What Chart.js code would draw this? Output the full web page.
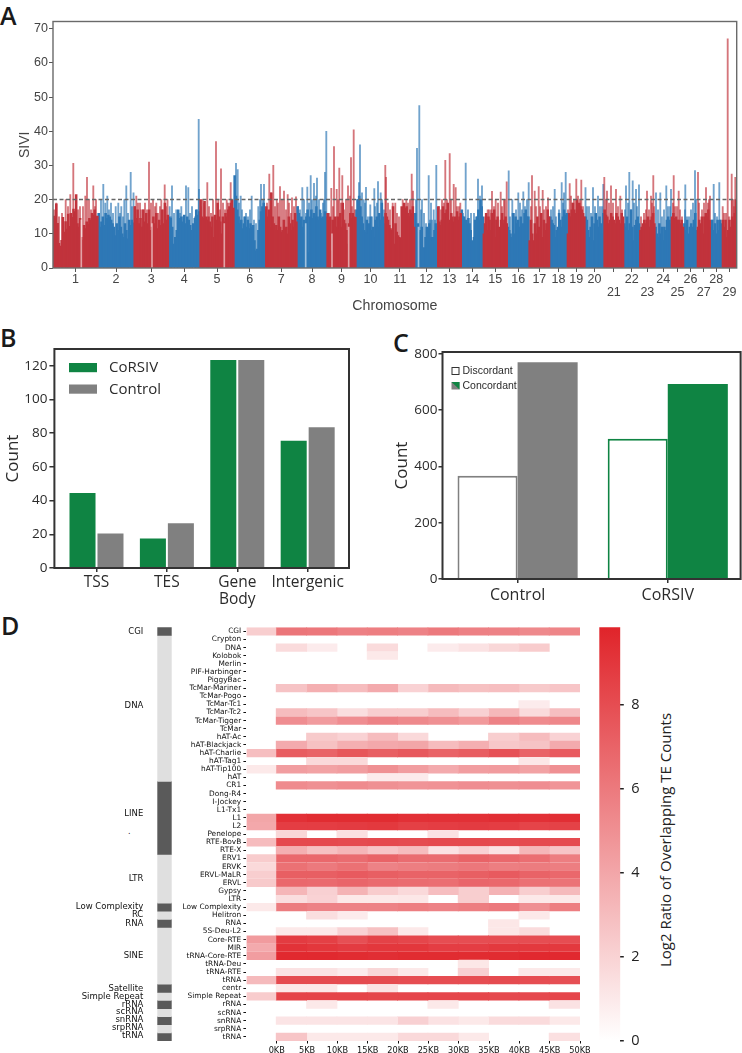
<!DOCTYPE html>
<html><head><meta charset="utf-8">
<title>CoRSIV figure</title>
<script src="https://cdn.jsdelivr.net/npm/chart.js@4"></script>
<style>
html,body{margin:0;padding:0;background:#fff;width:742px;height:1053px;overflow:hidden}
canvas{position:absolute;display:block}
.t{position:absolute;white-space:nowrap;color:#222;line-height:1}
.letter{font:600 25px "Open Sans",sans-serif;color:#1a1a1a}
</style></head><body>
<span class="t letter" style="left:0;top:-2px">A</span>
<span class="t letter" style="left:0;top:320px">B</span>
<span class="t letter" style="left:393px;top:325px">C</span>
<span class="t letter" style="left:1px;top:608px">D</span>
<span class="t" style="left:128px;top:827px;font:8px 'DejaVu Sans',sans-serif">.</span>
<span class="t" id="cbTitle" style="left:664.5px;top:839.5px;font:15px 'Open Sans',sans-serif;transform:translate(-50%,-50%) rotate(-90deg)">Log2 Ratio of Overlapping TE Counts</span>
<canvas id="a" width="742" height="315" style="left:0;top:0;width:742px;height:315px"></canvas>
<canvas id="b" width="360" height="290" style="left:0;top:320px;width:360px;height:290px"></canvas>
<canvas id="c" width="352" height="290" style="left:390px;top:320px;width:352px;height:290px"></canvas>
<canvas id="strip" width="175" height="433" style="left:0;top:620px;width:175px;height:433px"></canvas>
<canvas id="heat" width="420" height="433" style="left:175px;top:620px;width:420px;height:433px"></canvas>
<canvas id="cbar" width="70" height="433" style="left:590px;top:620px;width:70px;height:433px"></canvas>
<script>
// ---------- Panel A data ----------
const chromNames = ['1','2','3','4','5','6','7','8','9','10','11','12','13','14','15','16','17','18','19','20','21','22','23','24','25','26','27','28','29'];
const chromEdges = [0,45,81,115.5,147,181,212.7,244,274,303,332,361.7,384.7,408.3,430.3,454.3,476,496.7,514.3,532,551,570.7,586.7,602,618.3,630.7,644.3,657.3,669.3,683.7];
const chromBody = [
 [15.2,14.6,18.8,13.1,7.2,6.4,8.1,14.8,10.5,13.6,11.4,15.8,12.2,16,14.8,17.2,16.5,21.5,13,12,14.5,9,8.2,12.5,11.5,13.5,12.8,14.5,14,16,15.5,17,14.8,15.2],
 [16,12,13.5,15,12.5,16,14.5,15.5,15,14,13,12,9.5,13,11,15,12,10,9,13,11,8.5,14,12.5,14,13.2],
 [18,14.5,17,13,14.5,12,17,13.5,16,13,17,11,12,15,13,16,11.5,14,12.5,17,13,19,14,15.5],
 [15,14.5,12,7,9,11,17,14.5,15,13.5,15.5,13,15,14,12.5,11,13,14.5,17,15.5,16.5],
 [20,15,14.5,19.5,15,14,15,13.5,12,15,9,15.5,14,19,15,13.5,10,15,13.5,16,15,17,18,19,20,17.5],
 [27,21,17,15,13,14,11.5,13,15,12,14,11.5,13,12,12.5,8,5,5.5,11,14,16.5,18,19,17],
 [18,15,17,12,22,15,13,11,12.5,11,15,12,10.5,11,14,11.5,12,10,15,13,11,14,12,16,13.5],
 [18,16,14,15,12,14,10,15,17,4.5,15,17,14.5,16,15,18,15,14,17,14.5,15,14,16.5,15],
 [16,14,15,5,14,11,15,12,15,11.5,16,12,19,14,13,11,7,13,16,14.5,16,15,14.8],
 [17,20,21,18,15,13,11,10.5,14,10,13,15,11,12,9,14,15,12,16,14,19,15,13],
 [16,15,14,12.5,11.5,11,18,7,13,10.5,9.5,9,8.8,18,17,19,17.5,18,16,15,17,16,18,12],
 [16,12,13,10.5,11,12,2,6,9,12,11.5,13,9,8,9,11,13,12],
 [18,13.5,12.5,14,18,14,16,17,19,14,13,16,15,13.5,15,14,16.5,14,15,16],
 [17,15,15,13.5,14,13,14.5,13,11,8,7.5,9,14,12,15,17,14,20,18,15],
 [10,13,16,11,15,14,11,16,13,17,9,14,15,12,11,14,16,13,14,15,13],
 [12,11,10,9,16,10,15,13,14,12,15,12,13,16,17,15,15],
 [8,14,10,8,13,10,15,12,11,16,9,14,11,13,17,15],
 [15,14,13,12.5,9,11,12,16,14,12,15,17,15.5,16],
 [10,16,15,17,19,17,16,20,17,19,18,17,16,15],
 [15,14,11,9,12,15,8,13,16,14,12,15,13,10,16],
 [17,15.5,15,13,14,16,15,14,13,16,15,14,13,16,15],
 [13,12,15,11,13,17,12,8,12.5,14,15,13],
 [11,12,13,14,13,14,15,12,14,15,16,13],
 [12,10,9,13,10,12,8,12,11,14,15,14,13],
 [15,16,14.5,15,14,14,13,14,12],
 [13,11,14,10,12,13,12,14,16,11],
 [12,14,13,15,10,15,16,15,17,14],
 [12,14,11,13,10,14,11,14,13],
 [14,12,14,9,11,14,12,15,14,16,20]
];
const spikePos = [20.3,27,34,40.3,3.3,12.7,17.3,32.3,43,50.3,52.3,54.3,62.7,65.3,68.3,71.3,73.3,77.7,80.5,96,83.3,85,90,100,103.3,108.3,111.7,114.5,119,116.7,123.3,128.3,133,135.3,145.7,146,149.7,154.3,163,165.3,168,173.7,177.7,183,184.7,187.7,198.7,208,211,205.3,216.3,220.3,223.7,227,231,234.7,239,243,245,249.3,254.3,257.7,261,264,272,273.3,278.3,281,283.7,286.3,289.3,295,298,300.7,306,307,310.7,313,317.3,321.3,325,327.7,332.3,333,339.7,342.3,349.7,353.3,358.7,360,364,366.3,369,375.7,378,380.7,383.3,389,392.3,396.7,400.7,402.7,407.3,412.7,425,429,434.7,439,442.7,447.7,451,453.7,455.7,459.3,465.3,470.3,475.7,479,481.7,485.7,489.7,495,501.7,508.7,511,512.7,516.7,519.3,523.3,528.3,532.5,540,545,550.3,551.3,554,558,563,567.3,573,576.3,579.7,583,586,594,598,600.3,603,607.3,613.3,618,620.7,625.7,632.3,638,642,645,653,657,660.7,666.3,669.7,674.7,678.7,680.7,682.3];
const spikeVal = [30.6,18,26.5,24,19,20,21.5,21,20,24.5,19,21,18,19,18,20,24,28,22,31,21,19,17,20,19,20,24.3,20,24,18,17,18,24,23.5,43.5,23,20,25,37,20,29,20,25,30.6,28.8,21,21,24.5,24.5,18,27.5,30,20,23.8,22.5,21.5,20.5,20.8,18,23.5,23.7,27,24.8,26.3,28,40,23.3,35.5,23,29.2,27,24,32.3,40.4,25,36,20,23.6,18.5,23.2,25.3,22,30,26.5,19,19,20,20,27.5,22.5,35,47.5,20,27,19,17,30,20,31.5,33.5,24.5,23.5,19,30.7,26,24,17,22.4,20,22.2,20,25.2,28.4,20,22,22.3,25,27,22.5,23.8,22.7,20.5,23,25,22,28,24.7,19,26,25.7,23.5,23.5,21,24.5,26.5,22.5,24,23,21,24,28,25.5,23,24.3,22.5,21,27,22,22,24,23,27,22.5,24.3,17,28.5,28,23.5,21,24.5,25,18,67,27.5,20,26.5];
const hairPos = [1,6,9,15,23,25,30,36,38,42,46,48,56,58,60,67,70,75,79,82,87,88,92,94,98,102,105,107,110,113,118,121,125,127,130,137,139,142,144,148,151,156,158,160,167,170,172,175,179,182,186,189,191,193,195,197,201,203,207,210,214,218,222,225,229,233,236,238,241,247,251,253,256,259,263,266,268,270,271,276,280,285,288,291,293,297,299,302,304,309,312,315,319,322,324,329,331,335,337,344,346,351,355,357,363,368,371,373,377,379,382,386,388,391,394,398,404,406,410,415,418,421,423,427,432,436,438,441,445,449,452,457,461,463,467,469,472,474,478,483,487,491,493,498,500,503,506,510,515,518,521,525,527,530,534,536,538,542,547,549,553,556,560,565,569,572,575,578,581,584,588,591,593,596,599,601,605,609,611,615,617,620,622,624,627,629,632,634,636,640,643,646,649,651,655,656,659,662,664,667,671,673,676,679,681];
const hairVal = [17,15,16,18,19,17,18,20,17,18,16,20,17,19,16,16,15,16,18,18,19,17,19,17,19,18,16,18,17,18,15,16,15,16,15,16,18,15,17,18,19,18,16,20,17,19,17,19,19,22,19,17,15,16,15,17,14,13,20,20,19,22,18,19,20,17,19,16,18,17,20,16,19,20,21,20,16,19,20,16,18,20,19,17,20,21,18,17,20,22,19,15,15,18,19,20,17,19,17,16,15,16,19,20,20,17,16,13,14,14,14,18,17,19,20,20,18,18,16,17,16,16,15,21,15,17,17,18,19,18,20,15,16,17,19,17,18,20,18,18,18,17,18,17,18,15,17,19,17,21,20,21,20,18,18,18,16,18,18,18,20,19,19,18,17,17,19,17,19,18,15,16,17,17,19,18,17,15,17,18,18,19,18,18,17,15,17,15,15,19,20,19,17,19,19,20,14,16,15,14,16,16,15,20,18];
const notchPos = [28.3,99,365.5,252.7,171.3,279,295.7];
const notchVal = [14,13,12,13,13,10,12];
const sivThreshold = 20;
const sivTicks = [0,10,20,30,40,50,60,70];

// ---------- Panel B data ----------
const regionNames = [['TSS'],['TES'],['Gene','Body'],['Intergenic']];
const regionCoRSIV = [44.5,17.5,123.5,75.5];
const regionControl = [20.5,26.5,123.5,83.5];

// ---------- Panel C data ----------
const groupNames = ['Control','CoRSIV'];
const discordant = [367,498];
const concordant = [770,692];

// ---------- Panel D data ----------
const teNames = ['CGI','Crypton','DNA','Kolobok','Merlin','PIF-Harbinger','PiggyBac','TcMar-Mariner','TcMar-Pogo','TcMar-Tc1','TcMar-Tc2','TcMar-Tigger','TcMar','hAT-Ac','hAT-Blackjack','hAT-Charlie','hAT-Tag1','hAT-Tip100','hAT','CR1','Dong-R4','I-Jockey','L1-Tx1','L1','L2','Penelope','RTE-BovB','RTE-X','ERV1','ERVK','ERVL-MaLR','ERVL','Gypsy','LTR','Low Complexity','Helitron','RNA','5S-Deu-L2','Core-RTE','MIR','tRNA-Core-RTE','tRNA-Deu','tRNA-RTE','tRNA','centr','Simple Repeat','rRNA','scRNA','snRNA','srpRNA','tRNA'];
const distLabels = ['0KB','5KB','10KB','15KB','20KB','25KB','30KB','35KB','40KB','45KB','50KB'];
const heatRows = [
 [2.2,6.2,6.1,5.7,5.8,5.6,6.0,5.7,5.6,5.3,5.5],
 [0,0,0,0,0,0,0,0,0,0,0],
 [0,1.6,0.9,0,1.6,0,0.9,1.3,1.8,2.3,0],
 [0,0,0,0,1,0,0,0,0,0,0],
 [0,0,0,0,0,0,0,0,0,0,0],
 [0,0,0,0,0,0,0,0,0,0,0],
 [0,0,0,0,0,0,0,0,0,0,0],
 [0,2.7,3.6,3.0,3.8,2.0,3.1,2.8,2.9,2.4,2.6],
 [0,0,0,0,0,0,0,0,0,0,0],
 [0,0,0,0,0,0,0,0,0,0.9,0],
 [0,3,2.6,1.5,2.2,2.2,3.0,2.1,3.2,1.6,2.9],
 [0,5.1,4.5,5.1,5.6,5.3,5.0,4.6,5.6,5.2,5.4],
 [0,0,0,0,0,0,0,0,0,0,0],
 [0,0,2.4,2.0,3.0,1.7,0,0,2.2,3,2.0],
 [0,3.8,2.8,3.6,3.9,4.0,3.0,3.6,2.5,2.7,3.8],
 [2.9,7.3,7,7.6,7.2,7.5,7.0,7.3,7.8,7.0,7.4],
 [0,0,1.7,1.7,0,0,0,0,0,1.1,0],
 [1.0,4.4,4.2,4.4,5.0,4.4,3.8,4.4,4.5,4.2,5.0],
 [0,0,0,0,0.9,0.9,0,0,0,0,0],
 [0,5.2,5.0,5.2,5.0,4.8,4.9,5.1,5.0,5.1,4.8],
 [0,0,0,0,0,0,0,0,0,0,0],
 [0,0,0,0,0,0,0,0,0,0,0],
 [0,0,0,0,0,0,0,0,0,0,0],
 [4.0,9.3,9.5,9.5,9.5,9.3,9.3,9.3,9.4,9.3,9.4],
 [3.9,8.7,8.7,8.8,8.9,8.6,8.7,8.8,8.7,8.4,8.5],
 [0,1.8,0,1.4,0,0,1.3,0,0,0,0],
 [3,8.2,8.2,8.1,8.2,8.1,8.2,8.2,8.1,8.2,8.1],
 [0,3.6,2.8,3.3,2.6,3.0,1.3,2.0,1.3,3.3,2.6],
 [2.3,6.8,6.8,6.6,7.0,6.6,6.6,7.0,6.8,6.5,5.8],
 [1.7,6.4,6.0,6.4,5.6,5.8,5.9,6.1,5.8,5.9,5.8],
 [2.2,7.2,7.2,7.4,7.2,7.0,7.0,7.2,7.4,7.0,6.8],
 [2.4,6.8,6.7,6.9,6.7,6.6,6.5,6.9,6.8,6.4,6.3],
 [0,3.3,2.1,3.4,2.3,1.7,2.9,2.2,3.4,2.2,3.1],
 [0,1.5,2.0,1.0,1.0,1.1,0,2.2,0,1.0,1.0],
 [1.0,5.9,5.6,5.6,5.6,5.8,5.6,5.8,6.0,5.0,5.8],
 [0,0,1.5,0.9,0,0,0,0,0,1.0,0],
 [0,0,0,0,0,0,0,0,1.1,0,0],
 [0,1.0,1.0,2.0,2.8,1.0,0,0,1.1,1.6,0],
 [4.5,8.8,8.6,7.9,8.5,8.3,8.0,8.0,8.0,8.0,8.0],
 [3.8,9.2,9.0,8.8,9.0,9.0,8.7,8.7,8.9,8.9,8.9],
 [4.4,9.6,9.6,9.5,9.4,9.5,9.5,9.5,9.5,9.6,9.6],
 [0,0,0,0,0,0,0,1.1,0,0,0],
 [0,1.3,1.3,0.9,1.8,1.0,0,2.1,0,1,1],
 [3.1,8.1,8.1,8.1,8.1,8.0,8.0,8.0,8.1,8.0,7.9],
 [0,1.0,1.0,0,1.2,0,0,0,0,0,0],
 [2.3,8.4,8.4,8.4,8.3,8.3,8.3,8.3,8.2,8.2,8.3],
 [0,0,1.0,0,0,0,1.0,0,0,0,1.3],
 [0,0,0,0,0,0,0,0,0,0,0],
 [0,1.2,1.2,1.2,1.2,2.1,1.3,1.0,1.6,1.6,1.0],
 [0,0,0,0,0,0,0,0,0,0,0],
 [0,2.6,1.0,1.0,1.0,1.7,1.7,1.0,0,0,1.4]
];
const familyNames = ['CGI','DNA','LINE','LTR','Low Complexity','RC','RNA','SINE','Satellite','Simple Repeat','rRNA','scRNA','snRNA','srpRNA','tRNA'];
const familyStart = [0,1,19,28,34,35,36,37,44,45,46,47,48,49,50];
const familyEnd   = [1,19,28,34,35,36,37,44,45,46,47,48,49,50,51];
const familyLabelRow = [0.6,9.7,23,31,34.4,35.4,36.6,40.5,44.6,45.5,46.5,47.4,48.4,49.4,50.4];
const colorbarMax = 9.84;
const colorbarTicks = [0,2,4,6,8];

// ---------- helpers ----------
Chart.defaults.animation = false;
Chart.defaults.responsive = false;
Chart.defaults.devicePixelRatio = 1;
Chart.defaults.events = [];
Chart.defaults.plugins.legend.display = false;
Chart.defaults.plugins.tooltip.enabled = false;

const frame = {id:'frame', afterDatasetsDraw(chart,args,o){
  if(!o.color) return;
  const a = chart.chartArea, c = chart.ctx;
  c.save(); c.strokeStyle = o.color; c.lineWidth = o.width;
  c.strokeRect(a.left,a.top,a.right-a.left,a.bottom-a.top); c.restore();
}};
Chart.register(frame);

function setTicks(values){ return s => { s.ticks = values.map(v => ({value:v})); }; }
function fixW(w){ return s => { s.width = w; s.paddingTop = 0; s.paddingBottom = 0; }; }
function fixH(h){ return s => { s.height = h; s.paddingLeft = 0; s.paddingRight = 0; }; }
function heatColor(v){
  const t = Math.max(0, Math.min(1, v/colorbarMax));
  const m = (a,b) => Math.round(a+(b-a)*t);
  return `rgb(${m(255,224)},${m(255,36)},${m(255,42)})`;
}

// ---------- Panel A ----------
const RED='#c1333c', BLUE='#2e78b6', RED2='rgba(193,51,60,.68)', BLUE2='rgba(46,120,182,.68)';
const chromOf = x => { let i=0; while(i<chromNames.length-1 && x>=chromEdges[i+1]) i++; return i; };
const bodyRed=[], bodyBlue=[];
chromBody.forEach((vals,c)=>{
  const w=(chromEdges[c+1]-chromEdges[c])/vals.length;
  vals.forEach((y,i)=>{ (c%2?bodyBlue:bodyRed).push({x:chromEdges[c]+(i+.5)*w,y}); });
});
const spikeRed=[], spikeBlue=[];
spikePos.forEach((x,i)=>{ (chromOf(x)%2?spikeBlue:spikeRed).push({x,y:spikeVal[i]}); });
hairPos.forEach((x,i)=>{ (chromOf(x)%2?spikeBlue:spikeRed).push({x,y:hairVal[i]}); });
const chromCentres = chromNames.map((_,i)=>(chromEdges[i]+chromEdges[i+1])/2);
const chromLabels = chromNames.map(n => (+n>=21 && +n%2===1) ? ['',n] : [n]);
const AXA='#444', FA='"Liberation Sans",Arial,sans-serif';
new Chart(document.getElementById('a'),{
  type:'bar',
  data:{datasets:[
    {label:'spikes odd',data:spikeRed,backgroundColor:RED2,barThickness:1.2,order:6},
    {label:'spikes even',data:spikeBlue,backgroundColor:BLUE2,barThickness:1.2,order:6},
    {label:'odd chromosomes',data:bodyRed,backgroundColor:RED,barThickness:1.9,order:5},
    {label:'even chromosomes',data:bodyBlue,backgroundColor:BLUE,barThickness:1.9,order:5},
    {label:'gaps',data:notchPos.map((x,i)=>({x,y:notchVal[i]})),backgroundColor:'rgba(255,255,255,.55)',barThickness:1,order:4},
    {type:'line',label:'threshold',data:[{x:chromEdges[0],y:sivThreshold},{x:chromEdges[chromEdges.length-1],y:sivThreshold}],borderColor:'#666',borderWidth:1.5,borderDash:[4,2.5],pointRadius:0,order:1}
  ]},
  options:{
    layout:{padding:{left:0,top:21.5,right:5.3,bottom:0}},
    datasets:{bar:{grouped:false}},
    plugins:{frame:{color:'#6a6a6a',width:1.4}},
    scales:{
      x:{type:'linear',offset:false,min:chromEdges[0],max:chromEdges[chromEdges.length-1],
        grid:{display:true,drawOnChartArea:false,offset:false,tickLength:4,tickColor:'#555'},border:{display:false},
        afterBuildTicks:setTicks(chromCentres),afterFit:fixH(47),
        ticks:{autoSkip:false,maxRotation:0,minRotation:0,padding:1,color:AXA,font:{family:FA,size:12.5,lineHeight:1.03},callback:(v,i)=>chromLabels[i]},
        title:{display:true,text:'Chromosome',color:AXA,font:{family:FA,size:14.2,lineHeight:1.2},padding:{top:2,bottom:0}}},
      y:{min:0,max:72.1,grid:{display:true,drawOnChartArea:false,tickLength:4,tickColor:'#555'},border:{display:false},
        afterBuildTicks:setTicks(sivTicks),afterFit:fixW(53),
        ticks:{padding:1,color:AXA,font:{family:FA,size:12.5}},
        title:{display:true,text:'SIVI',color:AXA,font:{family:FA,size:14,lineHeight:1.2},padding:{top:16.6,bottom:0}}}
    }
  }
});

// ---------- Panel B ----------
const GREEN='#0f8443', GREY='#808080', INK='#2b2b2b', FB='"Open Sans",sans-serif';
const legendB = {id:'legendB', afterDatasetsDraw(chart){
  const c=chart.ctx;
  chart.data.datasets.forEach((d,i)=>{
    const y=43+i*21.5;
    c.fillStyle=d.backgroundColor; c.fillRect(69,y,28,9.2);
    c.fillStyle=INK; c.font='15px '+FB; c.textBaseline='middle'; c.textAlign='left';
    c.fillText(d.label,109,y+4.8);
  });
}};
new Chart(document.getElementById('b'),{
  type:'bar',
  data:{datasets:[
    {label:'CoRSIV',data:regionCoRSIV.map((y,x)=>({x,y})),backgroundColor:GREEN},
    {label:'Control',data:regionControl.map((y,x)=>({x,y})),backgroundColor:GREY}
  ]},
  plugins:[legendB],
  options:{
    layout:{padding:{left:0,top:29,right:11,bottom:0}},
    datasets:{bar:{categoryPercentage:.795,barPercentage:.93}},
    plugins:{frame:{color:'#333',width:2}},
    scales:{
      x:{type:'linear',offset:false,min:-.598,max:3.587,grid:{drawOnChartArea:false,offset:false,tickLength:4,tickColor:'#333',lineWidth:1.5},border:{display:false},
        afterBuildTicks:setTicks(regionNames.map((_,i)=>i)),afterFit:fixH(42),
        ticks:{autoSkip:false,maxRotation:0,minRotation:0,padding:2,color:INK,font:{family:FB,size:15.5,lineHeight:1.12},callback:(v,i)=>regionNames[i]}},
      y:{min:0,max:130,grid:{drawOnChartArea:false,tickLength:5,tickColor:'#333',lineWidth:1.5},border:{display:false},
        afterBuildTicks:setTicks([0,20,40,60,80,100,120]),afterFit:fixW(54.4),
        ticks:{padding:2,color:INK,font:{family:FB,size:13.5}},
        title:{display:true,text:'Count',color:INK,font:{family:FB,size:17,lineHeight:1.2},padding:{top:3,bottom:0}}}
    }
  }
});

// ---------- Panel C ----------
const discordantLabel='Discordant', concordantLabel='Concordant';
const legendC = {id:'legendC', afterDatasetsDraw(chart){
  const c=chart.ctx, x=61.5;
  c.save();
  c.strokeStyle='#333'; c.lineWidth=1; c.strokeRect(x+.5,47.5,7,7);
  c.fillStyle=GREY; c.fillRect(x,62,8,7.5);
  c.fillStyle=GREEN; c.beginPath(); c.moveTo(x,62); c.lineTo(x+8,62); c.lineTo(x+8,69.5); c.closePath(); c.fill();
  c.fillStyle=INK; c.font='10.5px "Liberation Sans",Arial,sans-serif'; c.textBaseline='middle'; c.textAlign='left';
  c.fillText(discordantLabel,x+11,51); c.fillText(concordantLabel,x+11,65.8);
  c.restore();
}};
const edge=[GREY,GREEN];
new Chart(document.getElementById('c'),{
  type:'bar',
  data:{datasets:[
    {label:discordantLabel,data:discordant.map((y,x)=>({x,y})),backgroundColor:'#fff',borderColor:edge,borderWidth:2,borderSkipped:'bottom'},
    {label:concordantLabel,data:concordant.map((y,x)=>({x,y})),backgroundColor:edge}
  ]},
  plugins:[legendC],
  options:{
    layout:{padding:{left:0,top:32,right:1.4,bottom:0}},
    datasets:{bar:{categoryPercentage:.8,barPercentage:1}},
    plugins:{frame:{color:'#333',width:2}},
    scales:{
      x:{type:'linear',offset:false,min:-.5,max:1.485,grid:{drawOnChartArea:false,offset:false,tickLength:4,tickColor:'#333',lineWidth:1.5},border:{display:false},
        afterBuildTicks:setTicks([0,1]),afterFit:fixH(31),
        ticks:{autoSkip:false,maxRotation:0,minRotation:0,padding:3,color:INK,font:{family:FB,size:16},callback:(v,i)=>groupNames[i]}},
      y:{min:0,max:806,grid:{drawOnChartArea:false,tickLength:4,tickColor:'#333',lineWidth:1.5},border:{display:false},
        afterBuildTicks:setTicks([0,200,400,600,800]),afterFit:fixW(52.5),
        ticks:{padding:1,color:INK,font:{family:FB,size:13.5}},
        title:{display:true,text:'Count',color:INK,font:{family:FB,size:17,lineHeight:1.2},padding:{top:2,bottom:0}}}
    }
  }
});

// ---------- Panel D: family strip ----------
const DV='"DejaVu Sans",sans-serif';
new Chart(document.getElementById('strip'),{
  type:'bar',
  data:{labels:['family'],datasets:familyNames.map((n,i)=>({
    label:n,data:[[familyStart[i],familyEnd[i]]],backgroundColor:i%2?'#dfdfdf':'#5a5a5a'
  }))},
  options:{
    layout:{padding:{left:0,top:7.3,right:3.3,bottom:12}},
    datasets:{bar:{grouped:false,categoryPercentage:1,barPercentage:1}},
    scales:{
      x:{display:false},
      y:{type:'linear',reverse:true,min:0,max:51,grid:{display:false,drawTicks:false},border:{display:false},
        afterBuildTicks:setTicks(familyLabelRow),afterFit:fixW(157.3),
        ticks:{autoSkip:false,padding:14,color:'#111',font:{family:DV,size:8.5},callback:(v,i)=>familyNames[i]}}
    }
  }
});

// ---------- Panel D: heatmap ----------
const cellBleed = 0.03; // hides hairline seams between neighbouring cells
new Chart(document.getElementById('heat'),{
  type:'bar',
  data:{labels:teNames,datasets:distLabels.map((n,c)=>({
    label:c===0?'gene':n,
    data:heatRows.map(()=>[c-1-(c>0?cellBleed:0),c]),
    backgroundColor:heatRows.map(r=>r[c]>0?heatColor(r[c]):'rgba(255,255,255,0)')
  }))},
  options:{
    indexAxis:'y',
    layout:{padding:{left:0,top:7.3,right:15,bottom:0}},
    datasets:{bar:{grouped:false,categoryPercentage:1,barPercentage:1.02}},
    scales:{
      x:{type:'linear',min:-1,max:10,grid:{drawOnChartArea:false,tickLength:2.5,tickColor:'#111'},border:{display:false},
        afterBuildTicks:setTicks(distLabels.map((_,i)=>i)),afterFit:fixH(12),
        ticks:{autoSkip:false,maxRotation:0,minRotation:0,padding:2,color:'#111',font:{family:DV,size:8.2},callback:(v,i)=>distLabels[i]}},
      y:{grid:{drawOnChartArea:false,offset:false,tickLength:3,tickColor:'#111'},border:{display:false},afterFit:fixW(71.4),
        ticks:{autoSkip:false,padding:2.2,color:'#111',font:{family:DV,size:7.4}}}
    }
  }
});

// ---------- Panel D: colour bar ----------
new Chart(document.getElementById('cbar'),{
  type:'bar',
  data:{labels:['ratio'],datasets:[{label:'Log2 Ratio of Overlapping TE Counts',data:[colorbarMax],
    backgroundColor(ctx){
      const {chart}=ctx, a=chart.chartArea; if(!a) return '#e0242a';
      const g=chart.ctx.createLinearGradient(0,a.bottom,0,a.top);
      g.addColorStop(0,heatColor(0)); g.addColorStop(1,heatColor(colorbarMax)); return g;
    }}]},
  options:{
    layout:{padding:{left:9.3,top:7.3,right:0,bottom:12.3}},
    datasets:{bar:{categoryPercentage:1,barPercentage:1}},
    scales:{
      x:{display:false},
      y:{position:'right',min:0,max:colorbarMax,grid:{drawOnChartArea:false,tickLength:3.5,tickColor:'#222',lineWidth:1.5},border:{display:false},
        afterBuildTicks:setTicks(colorbarTicks),afterFit:fixW(39.7),
        ticks:{padding:7.5,color:'#222',font:{family:FB,size:14.5}}}
    }
  }
});
</script>
</body></html>
